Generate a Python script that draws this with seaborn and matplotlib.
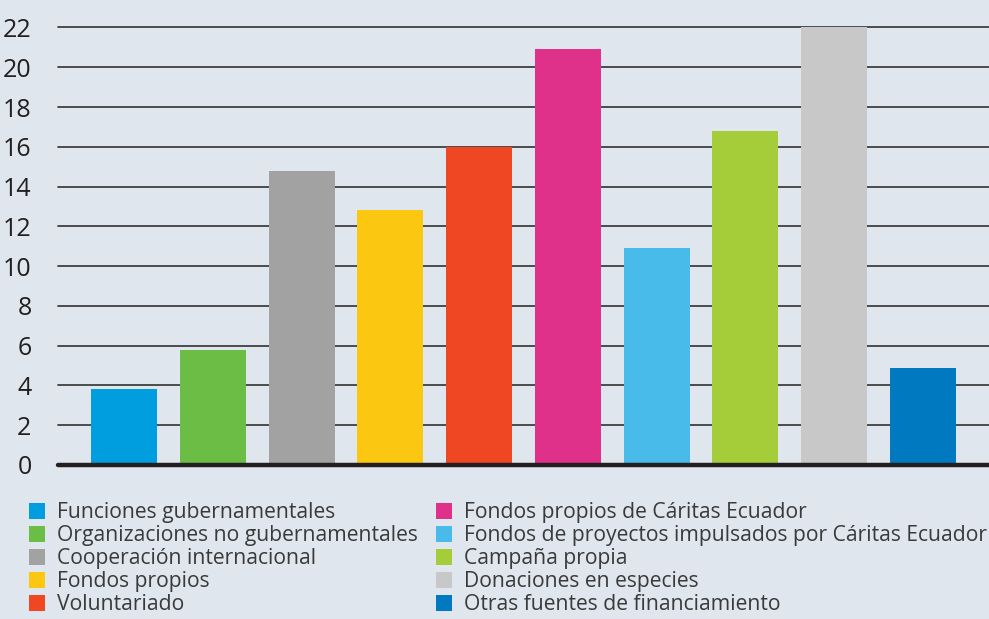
import matplotlib
matplotlib.use("Agg")
import matplotlib.pyplot as plt
import seaborn as sns
import pandas as pd
from matplotlib.patches import Patch

# Data
categories = [
    "Funciones gubernamentales",
    "Organizaciones no gubernamentales",
    "Cooperación internacional",
    "Fondos propios",
    "Voluntariado",
    "Fondos propios de Cáritas Ecuador",
    "Fondos de proyectos impulsados por Cáritas Ecuador",
    "Campaña propia",
    "Donaciones en especies",
    "Otras fuentes de financiamiento",
]
values = [3.8, 5.8, 14.8, 12.8, 16.0, 20.9, 10.9, 16.8, 22.0, 4.9]
bar_colors = ["#009ddf", "#6cbd45", "#a2a2a2", "#fbc711", "#ef4623",
              "#e0318a", "#48bbea", "#a5cd39", "#c8c8c8", "#0079c1"]
y_ticks = list(range(0, 23, 2))

bg = "#dfe6ed"
sns.set_theme(style="white")
plt.rcParams["font.family"] = ["Open Sans", "DejaVu Sans"]

df = pd.DataFrame({"fuente": categories, "valor": values})

fig = plt.figure(figsize=(9.89, 6.19), dpi=100, facecolor=bg)
ax = fig.add_axes([58 / 989, 154 / 619, 931 / 989, 439.5 / 619])
ax.set_facecolor(bg)

sns.barplot(data=df, x="fuente", y="valor", hue="fuente", palette=bar_colors,
            order=categories, hue_order=categories, dodge=False, legend=False,
            width=0.743, saturation=1, linewidth=0, edgecolor="none",
            ax=ax, zorder=3)

ax.set_xlim(-0.743, len(categories) - 1 + 0.743)
ax.set_ylim(0, 22.1)
ax.set_yticks(y_ticks)
ax.set_yticklabels([str(t) for t in y_ticks], fontsize=18, color="#231f20")
ax.tick_params(axis="y", length=0, pad=19)
ax.set_xticks([])
ax.set_xlabel("")
ax.set_ylabel("")
for s in ax.spines.values():
    s.set_visible(False)

for t in y_ticks[1:]:
    ax.axhline(t, color="#3f3f3f", lw=1.3, zorder=1, clip_on=False)
ax.axhline(0, color="#231f20", lw=3.2, zorder=4, clip_on=False)

# Legend in two columns
handles = [Patch(facecolor=c, edgecolor="none") for c in bar_colors]
leg_kw = dict(frameon=False, fontsize=15.2, handlelength=0.78, handleheight=0.78,
              handletextpad=0.55, labelspacing=0.1, borderpad=0, borderaxespad=0,
              labelcolor="#3a3a3a", loc="upper left")
leg1 = fig.legend(handles[:5], categories[:5], bbox_to_anchor=(29 / 989, 1 - 502 / 619), **leg_kw)
leg2 = fig.legend(handles[5:], categories[5:], bbox_to_anchor=(436 / 989, 1 - 502 / 619), **leg_kw)

fig.savefig("out.png", dpi=100, facecolor=bg)
